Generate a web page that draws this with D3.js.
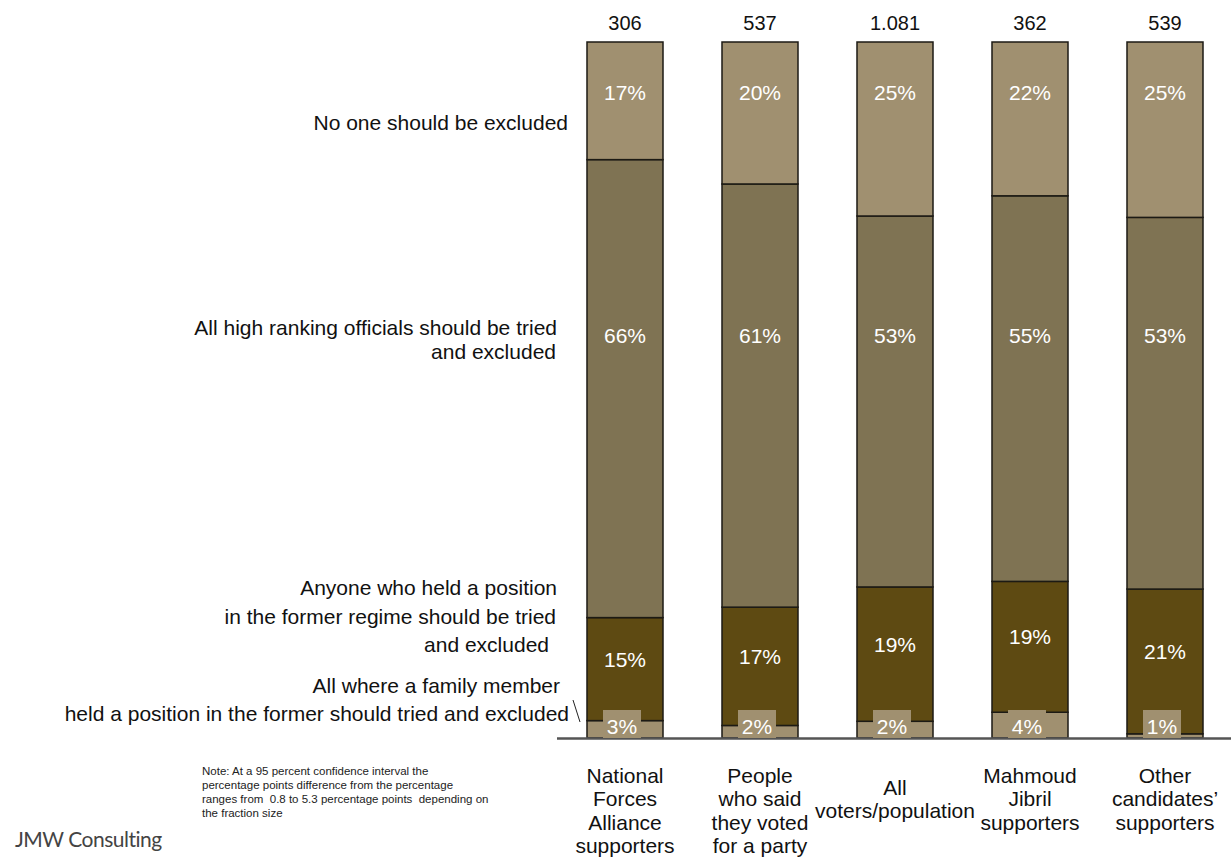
<!DOCTYPE html>
<html>
<head>
<meta charset="utf-8">
<script src="https://cdn.jsdelivr.net/npm/d3@7"></script>
<style>
  html, body { margin: 0; padding: 0; background: #fff; }
  svg { display: block; font-family: "Liberation Sans", Arial, sans-serif; }
  text { white-space: pre; }
</style>
</head>
<body>
<svg id="chart" width="1231" height="866"></svg>
<script>
// ---- data ----
const categories = ["National Forces Alliance supporters", "People who said they voted for a party", "All voters/population", "Mahmoud Jibril supporters", "Other candidates' supporters"];
const categoryLines = [
  ["National", "Forces", "Alliance", "supporters"],
  ["People", "who said", "they voted", "for a party"],
  ["All", "voters/population"],
  ["Mahmoud", "Jibril", "supporters"],
  ["Other", "candidates’", "supporters"]
];
const totals = ["306", "537", "1.081", "362", "539"];
const seriesNames = [
  "All where a family member held a position in the former should tried and excluded",
  "Anyone who held a position in the former regime should be tried and excluded",
  "All high ranking officials should be tried and excluded",
  "No one should be excluded"
];
const familyMember = [2.5, 1.8, 2.4, 3.7, 0.6];
const anyonePosition = [14.8, 17.0, 19.3, 18.8, 20.8];
const highRanking = [65.8, 60.8, 53.3, 55.4, 53.4];
const noOne = [16.9, 20.4, 25.0, 22.1, 25.2];
const seriesValues = [familyMember, anyonePosition, highRanking, noOne];
const seriesColors = ["#a09070", "#5e4a12", "#7f7353", "#a09070"];
const noteLines = [
  "Note: At a 95 percent confidence interval the",
  "percentage points difference from the percentage",
  "ranges from  0.8 to 5.3 percentage points  depending on",
  "the fraction size"
];

// ---- build ----
const svg = d3.select("#chart");
const x = d3.scaleBand().domain(categories).range([557.5, 1232.5]).paddingInner(0.437).paddingOuter(0.2185);
const y = d3.scaleLinear().domain([0, 100]).range([738, 42]);

const rows = categories.map((c, i) => {
  const r = { cat: c };
  seriesValues.forEach((s, k) => r["s" + k] = s[i]);
  return r;
});
const stack = d3.stack().keys(seriesValues.map((s, k) => "s" + k));
const stacked = stack(rows);

const g = svg.append("g");
stacked.forEach((layer, k) => {
  g.selectAll(null).data(layer).enter().append("rect")
    .attr("x", d => x(d.data.cat))
    .attr("width", x.bandwidth())
    .attr("y", d => y(d[1]))
    .attr("height", d => y(d[0]) - y(d[1]))
    .attr("fill", seriesColors[k])
    .attr("stroke", "#1c1a14")
    .attr("stroke-width", 1.5);
});

// axis baseline
svg.append("line")
  .attr("x1", 557).attr("x2", 1231)
  .attr("y1", y(0) + 0.5).attr("y2", y(0) + 0.5)
  .attr("stroke", "#555").attr("stroke-width", 2.5);

// value labels
const pct = v => Math.round(v) + "%";
const labelFont = 21;
const cxOf = d => x(d.data.cat) + x.bandwidth() / 2;
// top layer (No one)
stacked[3].forEach(d => {
  svg.append("text").attr("x", cxOf(d)).attr("y", y(d[1]) + 50)
    .attr("text-anchor", "middle").attr("dominant-baseline", "central")
    .attr("fill", "#fff").attr("font-size", labelFont).text(pct(d[1] - d[0]));
});
// high ranking
stacked[2].forEach(d => {
  svg.append("text").attr("x", cxOf(d)).attr("y", y(100) + 293)
    .attr("text-anchor", "middle").attr("dominant-baseline", "central")
    .attr("fill", "#fff").attr("font-size", labelFont).text(pct(d[1] - d[0]));
});
// anyone
stacked[1].forEach(d => {
  svg.append("text").attr("x", cxOf(d)).attr("y", (y(d[0]) + y(d[1])) / 2 - 10)
    .attr("text-anchor", "middle").attr("dominant-baseline", "central")
    .attr("fill", "#fff").attr("font-size", labelFont).text(pct(d[1] - d[0]));
});
// family member with boxes
stacked[0].forEach(d => {
  const cx = cxOf(d) - 3;
  svg.append("rect").attr("x", cx - 19).attr("y", y(0) - 28).attr("width", 38).attr("height", 28)
    .attr("fill", seriesColors[0]);
  svg.append("text").attr("x", cx).attr("y", y(0) - 12)
    .attr("text-anchor", "middle").attr("dominant-baseline", "central")
    .attr("fill", "#fff").attr("font-size", labelFont).text(pct(d[1] - d[0]));
});

// totals
categories.forEach((c, i) => {
  svg.append("text").attr("x", x(c) + x.bandwidth() / 2).attr("y", 23)
    .attr("text-anchor", "middle").attr("dominant-baseline", "central")
    .attr("fill", "#111").attr("font-size", 20).text(totals[i]);
});

// category labels
categories.forEach((c, i) => {
  const lines = categoryLines[i];
  const lh = 23.5;
  const startY = lines.length === 2 ? 787 : 775;
  const t = svg.append("text").attr("text-anchor", "middle").attr("fill", "#111").attr("font-size", 21);
  lines.forEach((ln, j) => {
    t.append("tspan").attr("x", x(c) + x.bandwidth() / 2).attr("y", startY + j * lh)
      .attr("dominant-baseline", "central").text(ln);
  });
});

// series labels on left
const leftLabels = [
  { lines: ["No one should be excluded"], xs: [568], ys: [122] },
  { lines: ["All high ranking officials should be tried", "and excluded"], xs: [557, 556], ys: [327, 351] },
  { lines: ["Anyone who held a position", "in the former regime should be tried", "and excluded"], xs: [557, 556, 549], ys: [587, 616, 644] },
  { lines: ["All where a family member", "held a position in the former should tried and excluded"], xs: [560, 569], ys: [685, 713] }
];
leftLabels.forEach(L => {
  L.lines.forEach((ln, j) => {
    svg.append("text").attr("x", L.xs[j]).attr("y", L.ys[j])
      .attr("text-anchor", "end").attr("dominant-baseline", "central")
      .attr("fill", "#111").attr("font-size", 21).text(ln);
  });
});
// leader line
svg.append("line").attr("x1", 573).attr("y1", 700).attr("x2", 580).attr("y2", 722)
  .attr("stroke", "#222").attr("stroke-width", 1);

// note
noteLines.forEach((ln, j) => {
  svg.append("text").attr("x", 202).attr("y", 771 + j * 14)
    .attr("dominant-baseline", "central").attr("fill", "#222").attr("font-size", 11.5).text(ln);
});

// logo text
svg.append("text").attr("x", 15).attr("y", 838).attr("dominant-baseline", "central")
  .attr("fill", "#444").attr("font-family", "Lato, 'Open Sans', sans-serif").attr("font-size", 21)
  .attr("letter-spacing", -0.5).text("JMW Consulting");
</script>
</body>
</html>
